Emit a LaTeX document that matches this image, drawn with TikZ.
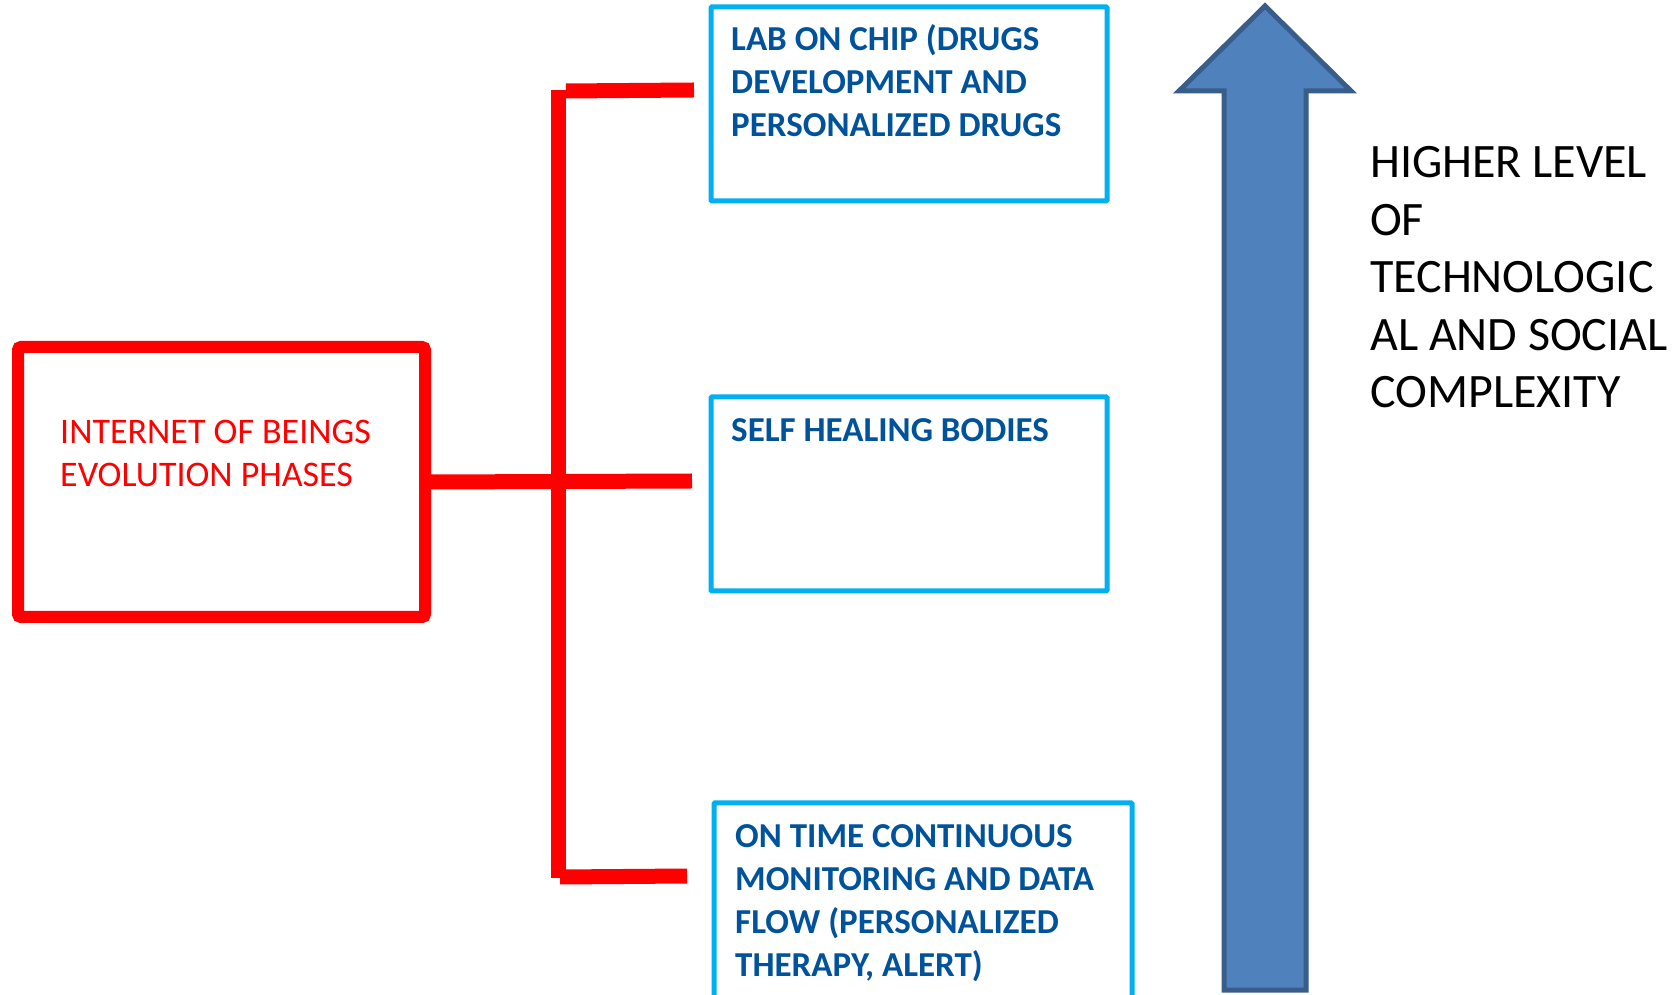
\documentclass[tikz,border=0pt]{standalone}
\usepackage{fontspec}
\setmainfont{Carlito}
\usetikzlibrary{positioning}
\definecolor{boxcyan}{RGB}{0,176,240}
\definecolor{phaseblue}{RGB}{0,82,155}
\definecolor{arrowfill}{RGB}{79,129,189}
\definecolor{arrowedge}{RGB}{56,93,138}

\begin{document}
\begin{tikzpicture}[
    x=1pt, y=1pt,
    rootbox/.style={draw=red, line width=12pt, rounded corners=3pt, minimum width=407pt, minimum height=270pt, inner sep=0pt},
    phasebox/.style={draw=boxcyan, line width=5pt, rounded corners=1pt, inner sep=0pt},
    roottext/.style={anchor=base west, align=left, inner sep=0pt, text=red, font=\fontsize{36}{43}\selectfont},
    phasetext/.style={anchor=base west, align=left, inner sep=0pt, text=phaseblue, font=\fontsize{35}{43}\selectfont\bfseries},
    sidetext/.style={anchor=base west, align=left, inner sep=0pt, font=\fontsize{48}{57.5}\selectfont},
    link/.style={draw=red, line width=15pt}
]
\useasboundingbox (0,0) rectangle (1674,994);

% Root
\node[rootbox] (iob) at (221.5,512) {};
\node[roottext] (iob-text) at (60,507.5) {INTERNET OF BEINGS\\EVOLUTION PHASES};

% Phases (text sits on the baseline of its last line)
\node[phasebox, minimum width=396pt, minimum height=194pt] (lab) at (909,890) {};
\node[phasetext] (lab-text) at (731,857) {LAB ON CHIP (DRUGS\\DEVELOPMENT AND\\PERSONALIZED DRUGS};

\node[phasebox, minimum width=396pt, minimum height=194pt] (heal) at (909,500) {};
\node[phasetext] (heal-text) at (731,552) {SELF HEALING BODIES};

\node[phasebox, minimum width=418pt, minimum height=215pt] (mon) at (923,83.5) {};
\node[phasetext] (mon-text) at (735,18) {ON TIME CONTINUOUS\\MONITORING AND DATA\\FLOW (PERSONALIZED\\THERAPY, ALERT)};

% Tree
\coordinate (trunk-top) at (558,904);
\coordinate (trunk-bot) at (558,116);
\coordinate (lab-from) at (566,903);
\coordinate (lab-to) at (694,904);
\coordinate (heal-to) at (692,513);
\coordinate (mon-from) at (560,117);
\coordinate (mon-to) at (687,118);
\draw[link] (trunk-top) -- (trunk-bot);
\draw[link] (lab-from) -- (lab-to);
\draw[link] (iob.east) -- (heal-to);
\draw[link] (mon-from) -- (mon-to);

% Complexity arrow
\draw[fill=arrowfill, draw=arrowedge, line width=5pt, line join=miter]
    (1265,988) -- (1351,903) -- (1306,903) -- (1306,4) -- (1224,4) -- (1224,903) -- (1179,903) -- cycle;
\node[sidetext] (level) at (1370,586) {HIGHER LEVEL\\OF\\TECHNOLOGIC\\AL AND SOCIAL\\COMPLEXITY};
\end{tikzpicture}
\end{document}
